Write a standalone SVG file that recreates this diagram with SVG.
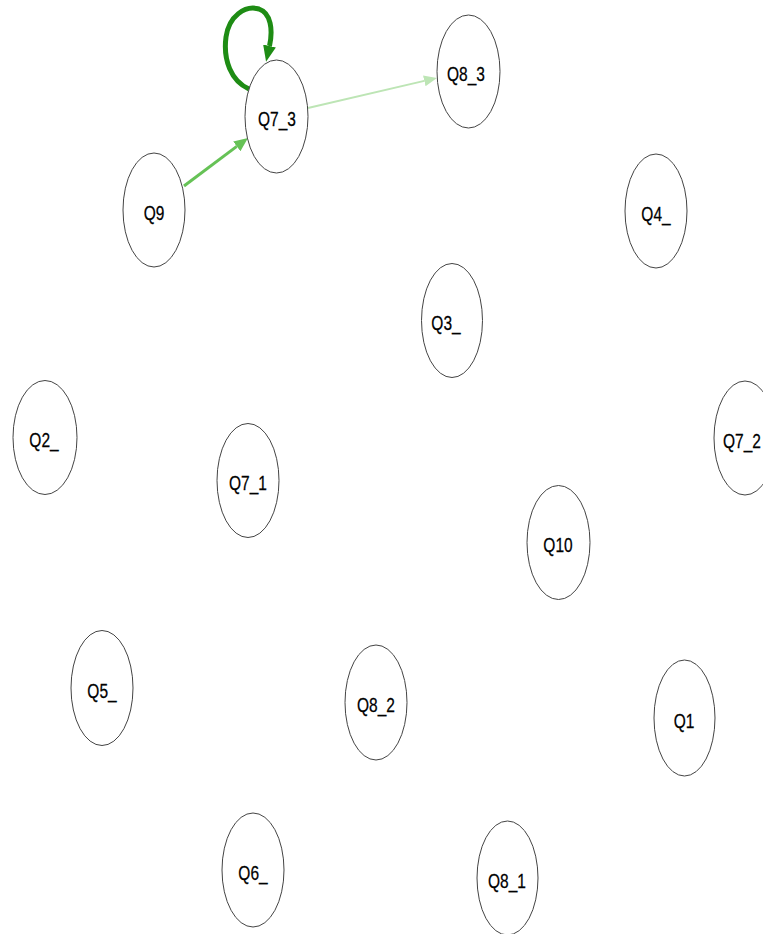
<svg xmlns="http://www.w3.org/2000/svg" width="763" height="934" viewBox="0 0 763 934">
<style>
.n ellipse{fill:#fff;stroke:#444;stroke-width:1}
.n text{font-family:"Liberation Sans",Arial,sans-serif;font-size:15.5px;fill:#000;stroke:#000;stroke-width:0.2;text-anchor:middle}
.e{fill:none}
</style>
<defs>
<marker id="aMid" markerUnits="userSpaceOnUse" markerWidth="20" markerHeight="20" refX="0" refY="6" orient="auto" viewBox="0 0 20 12"><path d="M0,0 L14,6 L0,12 z" fill="#66c256"/></marker>
<marker id="aLight" markerUnits="userSpaceOnUse" markerWidth="20" markerHeight="20" refX="0" refY="6" orient="auto" viewBox="0 0 20 12"><path d="M0,0.5 L13,6 L0,11.5 z" fill="#bde5b5"/></marker>
<marker id="aDark" markerUnits="userSpaceOnUse" markerWidth="20" markerHeight="20" refX="0" refY="7" orient="auto" viewBox="0 0 20 14"><path d="M0,0.5 L16,7 L0,13.5 z" fill="#1e8c14"/></marker>
</defs>
<g id="edges">
<path class="e" d="M184,186 L236.8,146.4" stroke="#66c256" stroke-width="3" marker-end="url(#aMid)"/>
<path class="e" d="M308,108 L424.3,80.9" stroke="#bde5b5" stroke-width="2" marker-end="url(#aLight)"/>
<path class="e" d="M249,89 C231,81 223,60 226,37 C229,16 245,5 259,9 C271,13 273,30 269.5,46" stroke="#1e8c14" stroke-width="5" marker-end="url(#aDark)"/>
</g>
<g id="Q7_3" class="n"><ellipse cx="276.5" cy="116.5" rx="31.5" ry="56.5"/><text transform="translate(277,126) scale(1,1.25)">Q7_3</text></g>
<g id="Q8_3" class="n"><ellipse cx="468.5" cy="71.5" rx="31.5" ry="56.5"/><text transform="translate(466,81) scale(1,1.25)">Q8_3</text></g>
<g id="Q9" class="n"><ellipse cx="154" cy="210" rx="31" ry="57"/><text transform="translate(154,219.5) scale(1,1.25)">Q9</text></g>
<g id="Q4_" class="n"><ellipse cx="656" cy="211" rx="31" ry="57"/><text transform="translate(656,220.5) scale(1,1.25)">Q4_</text></g>
<g id="Q3_" class="n"><ellipse cx="452" cy="320.5" rx="30.5" ry="57"/><text transform="translate(446,330) scale(1,1.25)">Q3_</text></g>
<g id="Q2_" class="n"><ellipse cx="45" cy="437.5" rx="32" ry="57"/><text transform="translate(44,447) scale(1,1.25)">Q2_</text></g>
<g id="Q7_2" class="n"><ellipse cx="745" cy="438" rx="31" ry="57"/><text transform="translate(742,447.5) scale(1,1.25)">Q7_2</text></g>
<g id="Q7_1" class="n"><ellipse cx="248" cy="480.5" rx="31" ry="57"/><text transform="translate(248,490) scale(1,1.25)">Q7_1</text></g>
<g id="Q10" class="n"><ellipse cx="558.5" cy="542.5" rx="31.5" ry="57"/><text transform="translate(558,552) scale(1,1.25)">Q10</text></g>
<g id="Q5_" class="n"><ellipse cx="102" cy="688" rx="31" ry="57.5"/><text transform="translate(102,697.5) scale(1,1.25)">Q5_</text></g>
<g id="Q8_2" class="n"><ellipse cx="376" cy="702.5" rx="31" ry="57.5"/><text transform="translate(376,712) scale(1,1.25)">Q8_2</text></g>
<g id="Q1" class="n"><ellipse cx="684.5" cy="718" rx="30.5" ry="58"/><text transform="translate(684,727.5) scale(1,1.25)">Q1</text></g>
<g id="Q6_" class="n"><ellipse cx="253" cy="870" rx="31" ry="57"/><text transform="translate(253,879.5) scale(1,1.25)">Q6_</text></g>
<g id="Q8_1" class="n"><ellipse cx="507.5" cy="878" rx="30.5" ry="57"/><text transform="translate(507,887.5) scale(1,1.25)">Q8_1</text></g>
</svg>
